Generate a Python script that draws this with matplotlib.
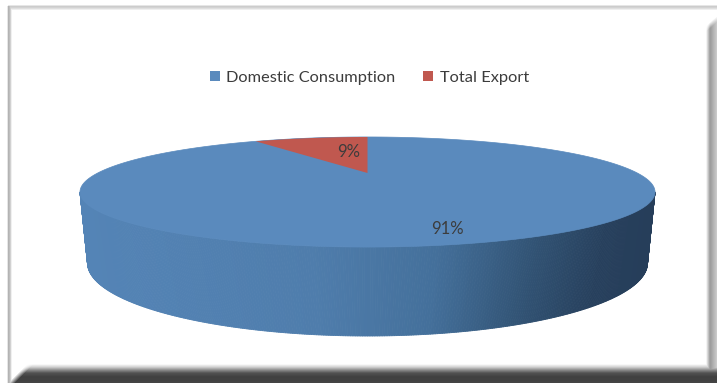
import numpy as np
import matplotlib
matplotlib.use("Agg")
import matplotlib.pyplot as plt
from matplotlib.collections import PolyCollection
from matplotlib.colors import LinearSegmentedColormap
from matplotlib.patches import Polygon, Patch

categories = ["Domestic Consumption", "Total Export"]
shares = [91, 9]
slice_colors = ["#5a8abd", "#c0584f"]
text_color = "#3c3c3c"

plt.rcParams["font.family"] = ["Lato", "DejaVu Sans"]

W, H = 717, 383
fig = plt.figure(figsize=(W / 100, H / 100), dpi=100, facecolor="white")
ax = fig.add_axes([0, 0, 1, 1])


def bevel_frame():
    """Build the gray bevelled border as an image, one value per pixel."""
    xx, yy = np.meshgrid(np.arange(W) + 0.5, np.arange(H) + 0.5)
    img = np.ones((H, W))

    # thin light edges along the top and left
    top = np.interp(yy, [4.5, 6.5, 8, 10.5], [1.0, 0.80, 0.84, 1.0])
    img = np.minimum(img, np.where(xx >= 8, top, 1.0))
    left = np.interp(xx, [7, 8.5, 10, 12], [1.0, 0.70, 0.76, 1.0])
    img = np.minimum(img, np.where(yy >= 6, left, 1.0))

    # wider shaded band on the right, mitred at its upper end
    right = np.interp(xx, [706, 710, 717], [1.0, 0.60, 0.80])
    start = 16 + (717 - xx) * 0.9
    fade = np.clip((yy - start) / 6, 0, 1)
    img = np.minimum(img, 1 - (1 - right) * fade)

    # heavy dark band along the bottom, mitred at its left end
    bottom = np.interp(yy, [364, 367, 370, 373, 377, 383], [1.0, 0.82, 0.55, 0.32, 0.25, 0.27])
    start = 8 + (383 - yy) * 1.0
    fade = np.clip((xx - start) / 7, 0, 1)
    img = np.minimum(img, 1 - (1 - bottom) * fade)
    return img


ax.imshow(bevel_frame(), extent=(0, W, H, 0), cmap="gray", vmin=0, vmax=1,
          aspect="auto", interpolation="bilinear", zorder=1)
ax.set_xlim(0, W)
ax.set_ylim(H, 0)
ax.axis("off")

# Tilted disc: a unit circle seen through a perspective projection
CX, K, PERSP, TILT, APEX_Y = 367.5, 269.8, 0.3455, 11.3, 173.0


def project(theta):
    u, v = np.sin(theta), np.cos(theta)
    d = 1 + PERSP * v
    return np.column_stack([CX + K * u / d, (TILT * v + APEX_Y) / d])


def base_lower(t):
    return np.column_stack([CX - 280 * np.cos(t), 263 + 73 * np.sin(t)])


# Side wall, shaded from left to right
shade = LinearSegmentedColormap.from_list(
    "wall",
    [(0.0, "#5484b6"), (0.40, "#4f7dac"), (0.62, "#44709b"),
     (0.80, "#315273"), (0.92, "#27405d"), (1.0, "#263e5a")],
)
widest = np.arccos(-PERSP)
t = np.linspace(0, np.pi, 361)
top_edge = project(np.linspace(2 * np.pi - widest, widest, 361))
bottom_edge = base_lower(t)
quads, tones = [], []
for i in range(len(t) - 1):
    quads.append([top_edge[i], top_edge[i + 1], bottom_edge[i + 1], bottom_edge[i]])
    tones.append(shade((top_edge[i, 0] - 80) / 575))
ax.add_collection(PolyCollection(quads, facecolors=tones, edgecolors=tones, linewidths=0.6, zorder=2))

# Top face, slices run counter-clockwise from twelve o'clock, export first
export_end = -2 * np.pi * shares[1] / sum(shares)
full = np.linspace(0, 2 * np.pi, 721)
ax.add_patch(Polygon(project(full), closed=True, fc=slice_colors[0], ec=slice_colors[0], lw=0.5, zorder=3))
arc = np.linspace(export_end, 0, 60)
apex = [[CX, APEX_Y]]
ax.add_patch(Polygon(np.vstack([apex, project(arc)]), closed=True, fc=slice_colors[1], ec="none", zorder=4))

# Value labels
ax.text(349, 152, f"{shares[1]}%", ha="center", va="center", fontsize=12, color=text_color, zorder=5)
ax.text(447, 229, f"{shares[0]}%", ha="center", va="center", fontsize=12, color=text_color, zorder=5)

# Legend above the disc
handles = [Patch(fc=c, ec="none") for c in slice_colors]
ax.legend(handles, categories, loc="center", bbox_to_anchor=(369.5 / W, 1 - 78 / H),
          ncol=2, frameon=False, fontsize=11.8, labelcolor=text_color,
          handlelength=0.61, handleheight=0.61, handletextpad=0.4, columnspacing=1.7,
          borderpad=0, borderaxespad=0)

fig.savefig("out.png", dpi=100, facecolor="white")
